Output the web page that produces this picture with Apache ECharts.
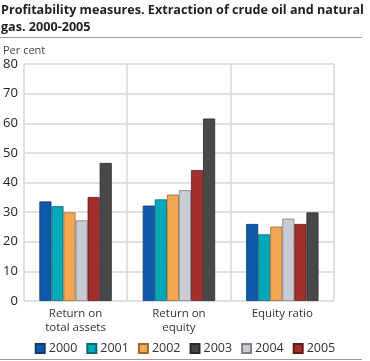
<!DOCTYPE html>
<html>
<head>
<meta charset="utf-8">
<script src="https://cdn.jsdelivr.net/npm/echarts@6/dist/echarts.min.js"></script>
<style>html,body{margin:0;padding:0;background:#fff}#c{width:370px;height:361px}</style>
</head>
<body>
<div id="c"></div>
<script>
const categories = ['Return on\ntotal assets', 'Return on\nequity', 'Equity ratio'];
const years = ['2000', '2001', '2002', '2003', '2004', '2005'];
const v2000 = [33.6, 32.2, 26.0];
const v2001 = [32.0, 34.3, 22.5];
const v2002 = [29.9, 35.9, 25.1];
const v2003 = [46.6, 61.6, 29.9];
const v2004 = [27.2, 37.4, 27.8];
const v2005 = [35.1, 44.2, 26.0];
const yTicks = [0, 10, 20, 30, 40, 50, 60, 70, 80];

const FONT = '"Open Sans", "Noto Sans", sans-serif';
const styles = {
  '2000': ['#1059a8', '#0b3d73'],
  '2001': ['#00a8b8', '#006b75'],
  '2002': ['#f5a653', '#9a6a35'],
  '2003': ['#48484a', '#2a2a2b'],
  '2004': ['#caccd3', '#7d7e83'],
  '2005': ['#a22f2b', '#621a18']
};
const valuesByYear = { '2000': v2000, '2001': v2001, '2002': v2002, '2003': v2003, '2004': v2004, '2005': v2005 };
// bar drawing order as seen in the reference
const drawOrder = ['2000', '2001', '2002', '2004', '2005', '2003'];

const series = drawOrder.map(y => ({
  name: y,
  type: 'bar',
  data: valuesByYear[y],
  barGap: '0%',
  barCategoryGap: '30%',
  itemStyle: { color: styles[y][0], borderColor: styles[y][1], borderWidth: 0.8 }
}));

const chart = echarts.init(document.getElementById('c'), null, { renderer: 'canvas' });
chart.setOption({
  animation: false,
  textStyle: { fontFamily: FONT },
  title: {
    text: 'Profitability measures. Extraction of crude oil and natural\ngas. 2000-2005',
    left: 1, top: 2, padding: 0,
    textStyle: { fontFamily: FONT, fontSize: 12.6, fontWeight: 'bold', color: '#222', lineHeight: 17 }
  },
  graphic: [
    { type: 'line', shape: { x1: 0, y1: 37.5, x2: 362, y2: 37.5 }, style: { stroke: '#9a9a9a', lineWidth: 1 } },
    { type: 'line', shape: { x1: 0, y1: 359.5, x2: 362, y2: 359.5 }, style: { stroke: '#9a9a9a', lineWidth: 1 } },
    { type: 'text', left: 3, top: 45, style: { text: 'Per cent', font: '11px ' + FONT, fill: '#444' } }
  ],
  legend: {
    data: years,
    bottom: 1,
    left: 'center',
    itemWidth: 9, itemHeight: 9,
    itemGap: 9,
    icon: 'rect',
    textStyle: { fontFamily: FONT, fontSize: 12.5, color: '#333', padding: [0, 0, 0, -1] }
  },
  grid: { left: 23, right: 36, top: 64, bottom: 60, containLabel: false },
  xAxis: {
    type: 'category',
    data: categories,
    axisLine: { show: false },
    axisTick: { show: false },
    splitLine: { show: true, lineStyle: { color: '#d6d6de', width: 1.5 } },
    axisLabel: { fontFamily: FONT, fontSize: 11.5, color: '#333', lineHeight: 14, margin: 6 }
  },
  yAxis: {
    type: 'value',
    min: 0, max: 80, interval: 10,
    axisLine: { show: false },
    axisTick: { show: false },
    splitLine: { show: true, lineStyle: { color: '#d6d6de', width: 1.5 } },
    axisLabel: { fontFamily: FONT, fontSize: 13, color: '#222', margin: 6,
      formatter: v => yTicks.includes(v) ? String(v) : '' }
  },
  series: series
});
</script>
</body>
</html>
